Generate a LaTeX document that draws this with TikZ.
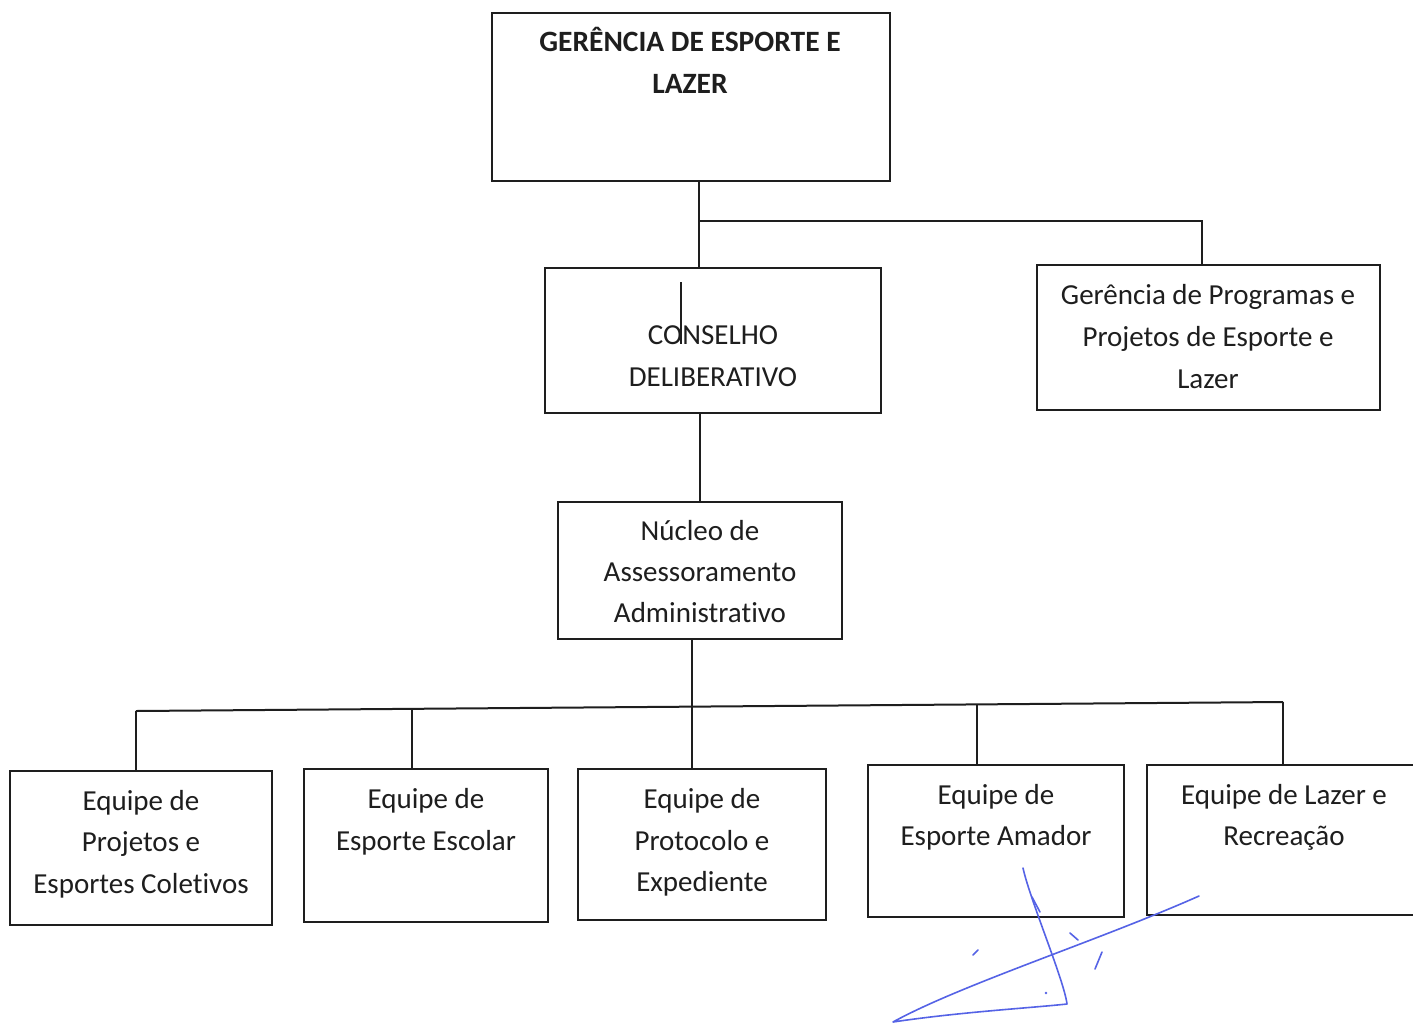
\documentclass[tikz,border=0pt]{standalone}
\usepackage{fontspec}
\setmainfont{Carlito}[Ligatures=NoCommon]
\definecolor{ink}{HTML}{1E1E1E}
\definecolor{pen}{HTML}{5563E6}
\begin{document}
\begin{tikzpicture}[x=1pt,y=-1pt,
  box/.style={draw=ink, line width=2pt, inner sep=0pt},
  conn/.style={draw=ink, line width=2pt},
  txt/.style={anchor=base, inner sep=0pt, text=ink, font=\fontsize{29}{35}\selectfont},
  ttl/.style={anchor=base, inner sep=0pt, text=ink, font=\bfseries\fontsize{29.5}{35}\selectfont},
  sig/.style={draw=pen, line width=1.6pt, line cap=round, line join=round}]
\useasboundingbox (0,0) rectangle (1413,1023);
\clip (0,0) rectangle (1413,1023);
\fill[white] (0,0) rectangle (1413,1023);

% boxes
\node[box, minimum width=398pt, minimum height=168pt] (top) at (691,97) {};
\node[box, minimum width=336pt, minimum height=145pt] (cons) at (713,340.5) {};
\node[box, minimum width=343pt, minimum height=145pt] (prog) at (1208.5,337.5) {};
\node[box, minimum width=284pt, minimum height=137pt] (nuc) at (700,570.5) {};
\node[box, minimum width=262pt, minimum height=154pt] (e1) at (141,848) {};
\node[box, minimum width=244pt, minimum height=153pt] (e2) at (426,845.5) {};
\node[box, minimum width=248pt, minimum height=151pt] (e3) at (702,844.5) {};
\node[box, minimum width=256pt, minimum height=152pt] (e4) at (996,841) {};
\node[box, minimum width=283pt, minimum height=150pt] (e5) at (1288.5,840) {};

% texts
\node[ttl] (t1a) at (690,51) {GERÊNCIA DE ESPORTE E};
\node[ttl] (t1b) at (690,93) {LAZER};
\node[txt] (t2a) at (713,344) {CONSELHO};
\node[txt] (t2b) at (713,386) {DELIBERATIVO};
\node[txt] (t3a) at (1208,304) {Gerência de Programas e};
\node[txt] (t3b) at (1208,346) {Projetos de Esporte e};
\node[txt] (t3c) at (1208,388) {Lazer};
\node[txt] (t4a) at (700,540) {Núcleo de};
\node[txt] (t4b) at (700,581) {Assessoramento};
\node[txt] (t4c) at (700,622) {Administrativo};
\node[txt] (t5a) at (141,810) {Equipe de};
\node[txt] (t5b) at (141,851) {Projetos e};
\node[txt] (t5c) at (141,893) {Esportes Coletivos};
\node[txt] (t6a) at (426,808) {Equipe de};
\node[txt] (t6b) at (426,850) {Esporte Escolar};
\node[txt] (t7a) at (702,808) {Equipe de};
\node[txt] (t7b) at (702,850) {Protocolo e};
\node[txt] (t7c) at (702,891) {Expediente};
\node[txt] (t8a) at (996,804) {Equipe de};
\node[txt] (t8b) at (996,845) {Esporte Amador};
\node[txt] (t9a) at (1284,804) {Equipe de Lazer e};
\node[txt] (t9b) at (1284,845) {Recreação};

% stray mark in CONSELHO
\coordinate (s1) at (681,282);
\coordinate (s2) at (681,344);
\draw[conn, line width=1.5pt] (s1) -- (s2);

% connectors
\coordinate (j1) at (699,221);
\coordinate (j2) at (1202,221);
\draw[conn] (top.south -| j1) -- (cons.north -| j1);
\draw[conn] (j1) -- (j2) -- (j2 |- prog.north);
\draw[conn] (cons.south -| nuc.north) -- (nuc.north);

\coordinate (b1) at (136,711);
\coordinate (b2) at (412,709);
\coordinate (b3) at (692,707);
\coordinate (b4) at (977,704);
\coordinate (b5) at (1283,702);
\draw[conn] (nuc.south -| b3) -- (b3);
\draw[conn] (b1) -- (b5);
\draw[conn] (b1) -- (b1 |- e1.north);
\draw[conn] (b2) -- (b2 |- e2.north);
\draw[conn] (b3) -- (b3 |- e3.north);
\draw[conn] (b4) -- (b4 |- e4.north);
\draw[conn] (b5) -- (b5 |- e5.north);

% signature
\coordinate (g1) at (1199,896);
\coordinate (g2) at (893,1022);
\coordinate (g3) at (1067,1004);
\coordinate (g4) at (1023,868);
\draw[sig] (g1) .. controls (1100,940) and (960,985) .. (g2)
  .. controls (960,1012) and (1030,1008) .. (g3)
  .. controls (1064,980) and (1030,900) .. (g4);
\draw[sig] (1032,897) -- (1040,912);
\draw[sig] (1070,933) -- (1078,940);
\draw[sig] (1102,952) -- (1095,969);
\draw[sig] (978,950) -- (973,955);
\fill[pen] (1046,993) circle (1.3pt);
\end{tikzpicture}
\end{document}
